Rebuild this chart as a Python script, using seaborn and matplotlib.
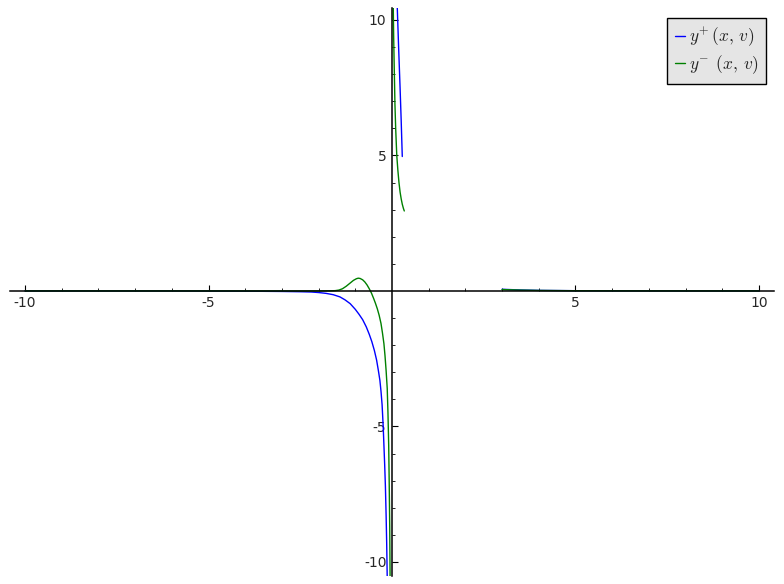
import numpy as np
import pandas as pd
import matplotlib
matplotlib.use("Agg")
import matplotlib.pyplot as plt
from matplotlib.lines import Line2D
from matplotlib.ticker import FixedLocator
import seaborn as sns

# ---- data ----
blue_left_x = [-10, -6, -4, -3, -2.5, -2.2, -2.0, -1.8, -1.6, -1.42, -1.28, -1.14, -1.0, -0.9, -0.8, -0.7,
               -0.62, -0.55, -0.48, -0.42, -0.37, -0.33, -0.3, -0.27, -0.24, -0.22, -0.2, -0.18, -0.16, -0.145, -0.13]
blue_left_y = [0, 0, -0.01, -0.02, -0.03, -0.04, -0.06, -0.09, -0.14, -0.22, -0.33, -0.47, -0.68, -0.86, -1.06, -1.33,
               -1.6, -1.87, -2.2, -2.55, -2.95, -3.3, -3.7, -4.2, -5.0, -5.7, -6.4, -7.2, -8.3, -9.3, -10.6]
blue_mid_x = [0.14, 0.18, 0.22, 0.25, 0.28]
blue_mid_y = [10.6, 9.0, 7.5, 6.3, 4.96]
blue_right_x = [3.0, 3.5, 4.0, 5.0, 6.0, 8.0, 10.0]
blue_right_y = [0.06, 0.035, 0.02, 0.008, 0.004, 0.001, 0.0]

green_left_x = [-10, -4, -2, -1.7, -1.55, -1.45, -1.35, -1.25, -1.15, -1.05, -0.97, -0.92, -0.87, -0.8, -0.74,
                -0.68, -0.62, -0.56, -0.5, -0.45, -0.4, -0.35, -0.3, -0.26, -0.22, -0.19, -0.16, -0.13, -0.11,
                -0.09, -0.075, -0.062, -0.052]
green_left_y = [0, 0, 0, 0.003, 0.01, 0.03, 0.08, 0.17, 0.28, 0.39, 0.45, 0.47, 0.46, 0.41, 0.33,
                0.22, 0.08, -0.08, -0.28, -0.46, -0.66, -0.9, -1.2, -1.55, -1.95, -2.4, -2.95, -3.6, -4.5,
                -5.7, -7.2, -8.7, -10.6]
green_mid_x = [0.033, 0.045, 0.06, 0.08, 0.1, 0.13, 0.16, 0.19, 0.22, 0.25, 0.28, 0.31, 0.335]
green_mid_y = [10.6, 9.4, 8.3, 6.9, 6.0, 5.0, 4.45, 4.0, 3.65, 3.4, 3.2, 3.05, 2.95]
green_right_x = [3.0, 3.5, 4.0, 5.0, 6.0, 8.0, 10.0]
green_right_y = [0.05, 0.03, 0.018, 0.007, 0.003, 0.001, 0.0]

x_major_ticks = [-10, -5, 5, 10]
y_major_ticks = [-10, -5, 5, 10]
minor_ticks = [-9, -8, -7, -6, -4, -3, -2, -1, 1, 2, 3, 4, 6, 7, 8, 9]
legend_labels = [r"$y^{+}\,(x,\, v)$", r"$y^{-}\;\,(x,\, v)$"]

rows = []
for series, segs in [("plus", [(blue_left_x, blue_left_y), (blue_mid_x, blue_mid_y), (blue_right_x, blue_right_y)]),
                     ("minus", [(green_left_x, green_left_y), (green_mid_x, green_mid_y), (green_right_x, green_right_y)])]:
    for k, (xs, ys) in enumerate(segs):
        for xv, yv in zip(xs, ys):
            rows.append({"x": xv, "y": yv, "series": series, "seg": f"{series}{k}"})
df = pd.DataFrame(rows)

sns.set_style("white")
plt.rcParams["axes.unicode_minus"] = False
plt.rcParams["mathtext.fontset"] = "cm"
plt.rcParams["font.family"] = ["DejaVu Sans"]

fig = plt.figure(figsize=(7.84, 5.84), dpi=100)
ax = fig.add_axes([10 / 784, 8 / 584, 764 / 784, 568 / 584])
colors = {"plus": "#0000ff", "minus": "#008000"}
sns.lineplot(data=df, x="x", y="y", hue="series", units="seg", estimator=None, sort=False,
             palette=colors, legend=False, linewidth=1.0, ax=ax)

ax.set_xlim(-10.41, 10.41)
ax.set_ylim(-10.52, 10.44)
ax.set_xlabel("")
ax.set_ylabel("")
for s in ["top", "right"]:
    ax.spines[s].set_visible(False)
for s in ["left", "bottom"]:
    ax.spines[s].set_position("zero")
    ax.spines[s].set_color("black")
    ax.spines[s].set_linewidth(1.1)
ax.set_facecolor("white")

ax.xaxis.set_major_locator(FixedLocator(x_major_ticks))
ax.yaxis.set_major_locator(FixedLocator(y_major_ticks))
ax.xaxis.set_minor_locator(FixedLocator(minor_ticks))
ax.yaxis.set_minor_locator(FixedLocator(minor_ticks))
ax.set_xticklabels([str(t) for t in x_major_ticks])
ax.set_yticklabels([str(t) for t in y_major_ticks])
ax.tick_params(which="major", direction="in", length=4, width=0.8, color="black", labelsize=10, pad=4,
               bottom=True, left=True, top=False, right=False)
ax.tick_params(which="minor", direction="in", length=2.2, width=0.6, color="black",
               bottom=True, left=True, top=False, right=False)

handles = [Line2D([0], [0], color=colors["plus"], lw=1.0), Line2D([0], [0], color=colors["minus"], lw=1.0)]
leg = ax.legend(handles, legend_labels, loc="upper right", fontsize=12.5, handlelength=0.6,
                handletextpad=0.2, borderpad=0.45, labelspacing=0.25, fancybox=False, framealpha=1,
                borderaxespad=0, bbox_to_anchor=(0.9895, 0.9824))
leg.get_frame().set_facecolor("#e5e5e5")
leg.get_frame().set_edgecolor("black")
leg.get_frame().set_linewidth(1.0)

fig.savefig("out.png", dpi=100)
